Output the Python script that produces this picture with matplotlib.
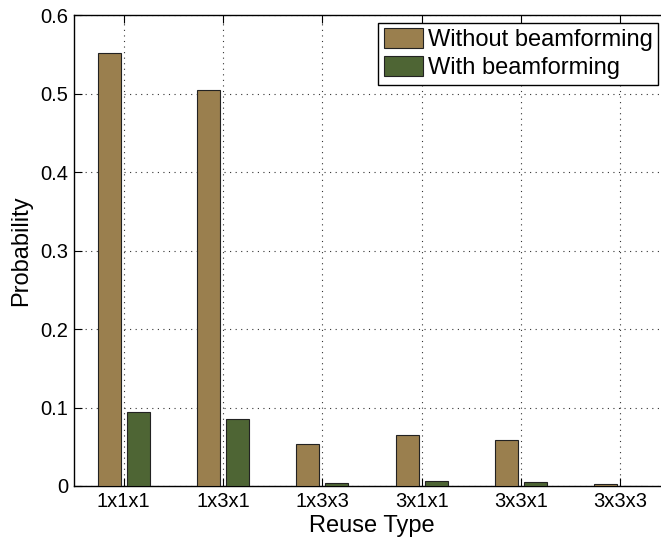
import matplotlib
matplotlib.use("Agg")
import matplotlib.pyplot as plt
import numpy as np

plt.rcParams['font.family'] = ['Liberation Sans', 'DejaVu Sans']

# data
reuse_types = ['1x1x1', '1x3x1', '1x3x3', '3x1x1', '3x3x1', '3x3x3']
without_bf = [0.552, 0.505, 0.054, 0.065, 0.058, 0.003]
with_bf = [0.094, 0.085, 0.004, 0.006, 0.005, 0.0005]
series_labels = ['Without beamforming', 'With beamforming']

fig = plt.figure(figsize=(6.61, 5.38), dpi=100)
ax = fig.add_axes([0.112, 0.0967, 0.9016, 0.875])

x = np.arange(1, len(reuse_types) + 1)
w = 0.23
off = 0.146
ax.bar(x - off, without_bf, w, color='#9a7f4e', edgecolor='#222222', linewidth=0.8, label=series_labels[0], zorder=3)
ax.bar(x + off, with_bf, w, color='#4e6534', edgecolor='#222222', linewidth=0.8, label=series_labels[1], zorder=3)

ax.set_xlim(0.5, 6.5)
ax.set_ylim(0, 0.6)
ax.set_xticks(x)
ax.set_xticklabels(reuse_types)
ax.set_yticks(np.arange(0, 0.61, 0.1))
ax.set_yticklabels(['0', '0.1', '0.2', '0.3', '0.4', '0.5', '0.6'])
ax.tick_params(direction='in', length=6, width=0.8, labelsize=14.5, top=True, right=True, pad=4)
ax.grid(True, linestyle=(0, (1, 4)), color='#333333', linewidth=0.8, zorder=0)
ax.set_axisbelow(True)
for s in ax.spines.values():
    s.set_linewidth(1.0)

ax.set_xlabel('Reuse Type', fontsize=17, labelpad=3)
ax.set_ylabel('Probability', fontsize=17, labelpad=6)

leg = ax.legend(loc='upper left', bbox_to_anchor=(0.572, 0.958), bbox_transform=fig.transFigure,
                fontsize=17, frameon=True, fancybox=False, borderaxespad=0, borderpad=0.25,
                handlelength=1.65, handleheight=0.9, handletextpad=0.2, labelspacing=0.2)
leg.get_frame().set_edgecolor('black')
leg.get_frame().set_linewidth(1.0)
leg.get_frame().set_alpha(1)

fig.savefig('out.png', dpi=100)
